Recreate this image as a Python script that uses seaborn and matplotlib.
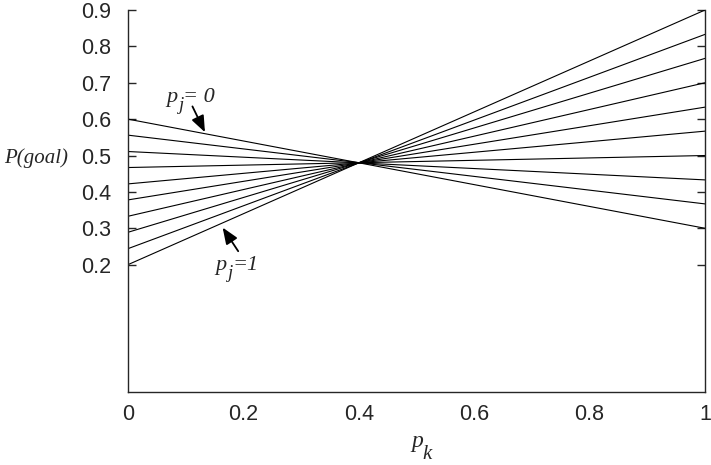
import pandas as pd
import numpy as np
import seaborn as sns
import matplotlib.pyplot as plt

# P(goal) at p_k = 0 and p_k = 1, one line per p_j
pj = ['0', '1/9', '2/9', '3/9', '4/9', '5/9', '6/9', '7/9', '8/9', '1']
p_start = [0.600, 0.556, 0.511, 0.467, 0.422, 0.378, 0.333, 0.289, 0.244, 0.200]
p_end = [0.300, 0.367, 0.433, 0.500, 0.567, 0.633, 0.700, 0.767, 0.833, 0.900]
pk = [0.0, 1.0]
yticks = [0.2, 0.3, 0.4, 0.5, 0.6, 0.7, 0.8, 0.9]
xticks = [0, 0.2, 0.4, 0.6, 0.8, 1]

rows = []
for i in range(len(pj)):
    rows.append({'pj': pj[i], 'pk': pk[0], 'P': p_start[i]})
    rows.append({'pj': pj[i], 'pk': pk[1], 'P': p_end[i]})
df = pd.DataFrame(rows)

sns.set_style('ticks')
plt.rcParams['font.family'] = ['Liberation Sans', 'DejaVu Sans']

fig = plt.figure(figsize=(7.11, 4.65), dpi=100)
ax = fig.add_axes([0.18, 0.157, 0.8116, 0.8215])
sns.lineplot(data=df, x='pk', y='P', hue='pj', palette=['black'] * len(pj),
             linewidth=0.8, legend=False, ax=ax)

ax.set_xlim(0, 1)
ax.set_ylim(-0.15, 0.9)
ax.set_xticks(xticks)
ax.set_xticklabels(['0', '0.2', '0.4', '0.6', '0.8', '1'])
ax.set_yticks(yticks)
ax.set_yticklabels([str(t) for t in yticks])
ax.tick_params(axis='y', direction='in', length=6, width=1, right=True, labelsize=15.5, pad=12)
ax.tick_params(axis='x', length=0, labelsize=15.5, pad=9)
ax.spines['top'].set_visible(False)
for s in ['left', 'right', 'bottom']:
    ax.spines[s].set_linewidth(1.0)

serif = ['Liberation Serif', 'DejaVu Serif']
ax.set_xlabel('')
ax.set_ylabel('')
fig.text(0.006, 0.66, 'P(goal)', family=serif, style='italic', fontsize=15, va='center')


def plabel(x, y, sub, rest, size):
    # gnuplot style p_j label: subscript nearly as big as the base letter
    t = ax.text(x, y, 'p', family=serif, style='italic', fontsize=size, va='baseline')
    fig.canvas.draw()
    bb = t.get_window_extent()
    inv = ax.transData.inverted()
    x1, _ = inv.transform((bb.x1 + 1, bb.y0))
    _, ysub = inv.transform((0, ax.transData.transform((x, y))[1] - size * 0.5))
    t2 = ax.text(x1, ysub, sub, family=serif, style='italic', fontsize=size * 0.85, va='baseline')
    fig.canvas.draw()
    bb2 = t2.get_window_extent()
    x2, _ = inv.transform((bb2.x1, bb2.y0))
    ax.text(x2, y, rest, family=serif, style='italic', fontsize=size, va='baseline')


plabel(0.066, 0.648, 'j', '= 0', 16)
plabel(0.151, 0.186, 'j', '=1', 16)
fig.text(0.578, 0.039, 'p', family=serif, style='italic', fontsize=17, va='baseline')
fig.text(0.594, 0.012, 'k', family=serif, style='italic', fontsize=15, va='baseline')

arrow = dict(arrowstyle='-|>,head_length=0.55,head_width=0.22', color='black', lw=1.3,
             mutation_scale=18, shrinkA=0, shrinkB=0)
ax.annotate('', xy=(0.1334, 0.564), xytext=(0.1117, 0.635), arrowprops=arrow)
ax.annotate('', xy=(0.164, 0.302), xytext=(0.191, 0.237), arrowprops=arrow)

plt.savefig('out.png', dpi=100)
